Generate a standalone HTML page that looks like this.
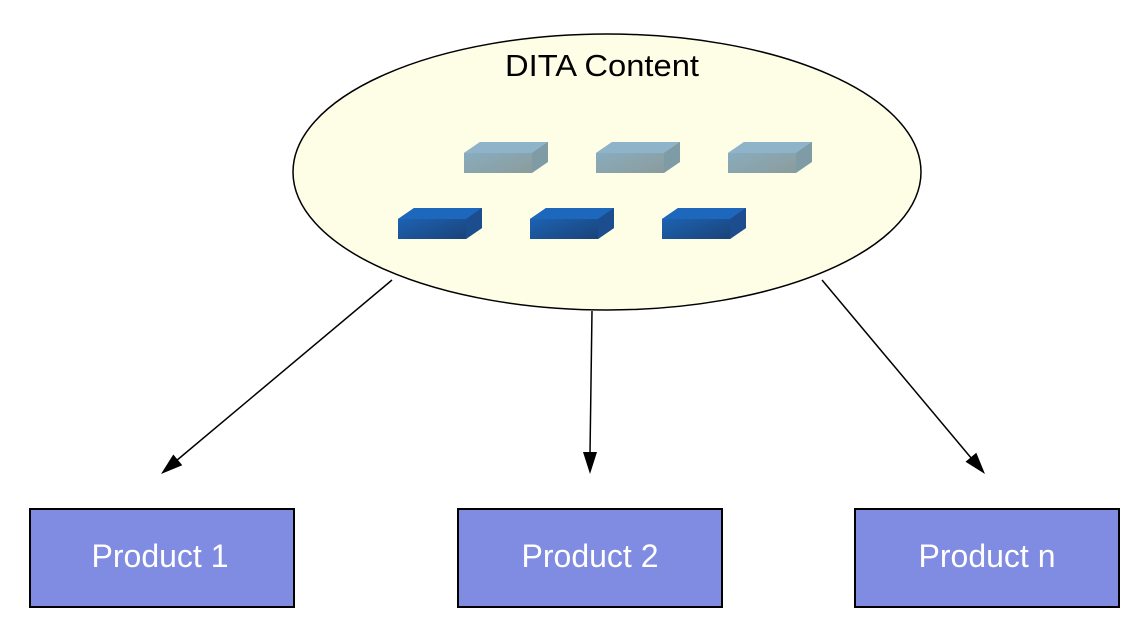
<!DOCTYPE html>
<html><head><style>body{margin:0;background:#fff}svg{display:block}</style></head><body>
<svg width="1148" height="638" viewBox="0 0 1148 638" xmlns="http://www.w3.org/2000/svg">
<defs>
<linearGradient id="lf" x1="0" y1="0" x2="1" y2="1"><stop offset="0" stop-color="#89b0c6"/><stop offset="1" stop-color="#8a9a98"/></linearGradient>
<linearGradient id="df" x1="0" y1="0" x2="1" y2="1"><stop offset="0" stop-color="#1d6ac0"/><stop offset="1" stop-color="#1a3f72"/></linearGradient>
<g id="lb"><path d="M0,11 L16,0 L84,0 L84,4 L68,31 L0,31 Z" fill="url(#lf)"/><path d="M0,11 L16,0 L84,0 L68,11 Z" fill="#8fb3c8"/><path d="M68,11 L84,0 L84,20 L68,31 Z" fill="#7f9ba6"/></g>
<g id="db"><path d="M0,11 L16,0 L84,0 L84,20 L68,31 L0,31 Z" fill="url(#df)"/><path d="M0,11 L16,0 L84,0 L68,11 Z" fill="#1d68bd"/><path d="M68,11 L84,0 L84,20 L68,31 Z" fill="#1c4d8f"/></g>
</defs>
<ellipse cx="607" cy="172" rx="314" ry="138" fill="#fefee6" stroke="#000" stroke-width="1.5"/>
<text x="602" y="76" font-family="Liberation Sans, sans-serif" font-size="31" text-anchor="middle" fill="#000" textLength="194" lengthAdjust="spacingAndGlyphs">DITA Content</text>
<use href="#lb" x="464" y="142"/><use href="#lb" x="596" y="142"/><use href="#lb" x="728" y="142"/>
<use href="#db" x="398" y="208"/><use href="#db" x="530" y="208"/><use href="#db" x="662" y="208"/>
<g stroke="#000" stroke-width="1.5" fill="none">
<line x1="392" y1="280" x2="176" y2="461"/>
<line x1="592" y1="311" x2="590" y2="454"/>
<line x1="822" y1="280" x2="972" y2="459"/>
</g>
<g fill="#000">
<polygon points="161,474 182.3,465.3 173.3,454.5"/>
<polygon points="590,474 583,452 597,452"/>
<polygon points="985,474 965.5,461.7 976.3,452.7"/>
</g>
<g stroke="#000" stroke-width="2" fill="#808be2">
<rect x="30" y="509" width="264" height="98"/>
<rect x="458" y="509" width="264" height="98"/>
<rect x="855" y="509" width="264" height="98"/>
</g>
<g font-family="Liberation Sans, sans-serif" font-size="32" fill="#fff" text-anchor="middle">
<text x="160" y="567">Product 1</text>
<text x="590" y="567">Product 2</text>
<text x="987" y="567">Product n</text>
</g>
</svg>
</body></html>
